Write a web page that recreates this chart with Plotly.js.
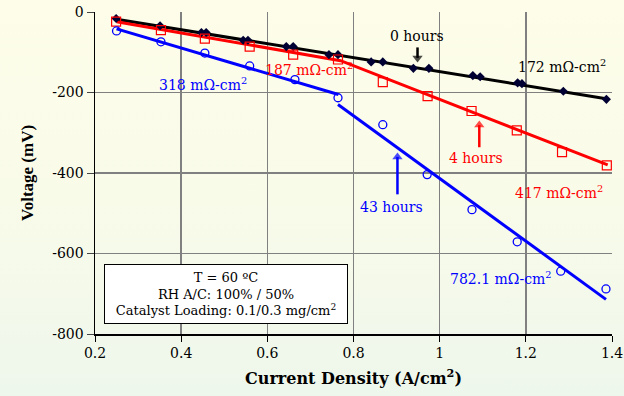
<!DOCTYPE html>
<html><head><meta charset="utf-8">
<script src="https://cdn.plot.ly/plotly-3.0.1.min.js"></script>
<style>
html,body{margin:0;padding:0;}
body{background:linear-gradient(to bottom,#fdfde9 0%,#f9fbe9 50%,#eef7ec 100%);width:624px;height:396px;overflow:hidden;}
#chart{width:624px;height:396px;}
</style>
</head><body><div id="chart"></div>
<script>
// 0 hours
const x0h = [0.249,0.351,0.447,0.458,0.544,0.555,0.644,0.660,0.743,0.764,0.841,0.868,0.939,0.975,1.077,1.094,1.181,1.191,1.287,1.387];
const y0h = [-16,-34,-51,-51,-70,-70,-86,-86,-106,-106,-124,-124,-140,-140,-158,-161,-176,-178,-197,-217];
const fit0hX = [0.25,1.39];
const fit0hY = [-18,-216];
// 4 hours
const x4h = [0.249,0.353,0.455,0.559,0.660,0.764,0.868,0.972,1.074,1.179,1.284,1.388];
const y4h = [-24,-45,-66,-86,-106,-118,-174,-209,-246,-294,-348,-381];
const fit4hX = [0.25,0.77,1.39];
const fit4hY = [-24,-121,-380];
// 43 hours
const x43h = [0.250,0.353,0.455,0.559,0.664,0.764,0.868,0.971,1.075,1.180,1.281,1.386];
const y43h = [-47,-74,-102,-134,-168,-213,-280,-404,-491,-571,-644,-688];
const fit43aX = [0.25,0.765];
const fit43aY = [-42,-205];
const fit43bX = [0.764,1.386];
const fit43bY = [-230,-714];
// arrows: [x, tail y, head y]
const arrow0h = [0.9486,-88,-114];
const arrow4h = [1.092,-336,-281];
const arrow43h = [0.902,-453,-360];
const xTicks = [0.2,0.4,0.6,0.8,1,1.2,1.4];
const yTicks = [0,-200,-400,-600,-800];

const SERIF = 'DejaVu Serif, serif';
const TIMES = 'Liberation Serif, Times New Roman, serif';
const BLACK='#000000', RED='#ff0000', BLUE='#0000ff';

function arrowTrace(a,c){
  const head = a[2] > a[1] ? 'triangle-up' : 'triangle-down';
  return {x:[a[0],a[0]],y:[a[1],a[2]],mode:'lines+markers',
    line:{color:c,width:2.5},
    marker:{symbol:['circle',head],size:[0.1,9],color:c,line:{width:0}},
    hoverinfo:'skip'};
}

const traces = [
  {x:fit0hX,y:fit0hY,mode:'lines',line:{color:BLACK,width:3},hoverinfo:'skip'},
  {x:fit4hX,y:fit4hY,mode:'lines',line:{color:RED,width:3},hoverinfo:'skip'},
  {x:fit43aX,y:fit43aY,mode:'lines',line:{color:BLUE,width:3},hoverinfo:'skip'},
  {x:fit43bX,y:fit43bY,mode:'lines',line:{color:BLUE,width:3},hoverinfo:'skip'},
  {x:x0h,y:y0h,mode:'markers',marker:{symbol:'diamond',size:7,color:'#000033',line:{width:0}}},
  {x:x4h,y:y4h,mode:'markers',marker:{symbol:'square-open',size:9,color:RED,line:{width:1.2}}},
  {x:x43h,y:y43h,mode:'markers',marker:{symbol:'circle-open',size:8,color:BLUE,line:{width:1.3}}},
  arrowTrace(arrow0h,BLACK),
  arrowTrace(arrow4h,RED),
  arrowTrace(arrow43h,BLUE)
];

function txt(x,y,t,c,xa){return {x:x,y:y,text:t,showarrow:false,font:{family:SERIF,size:14,color:c},xanchor:xa||'center',yanchor:'middle'};}

const annotations = [
  txt(0.947,-60,'0 hours',BLACK),
  txt(1.285,-133,'172 mΩ-cm<sup>2</sup>',BLACK),
  txt(0.589,-142,'187 mΩ-cm<sup>2</sup>',RED,'left'),
  txt(0.45,-180,'318 mΩ-cm<sup>2</sup>',BLUE),
  txt(1.085,-362,'4 hours',RED),
  txt(1.277,-446,'417 mΩ-cm<sup>2</sup>',RED),
  txt(0.888,-484,'43 hours',BLUE),
  txt(1.143,-660,'782.1 mΩ-cm<sup>2</sup>',BLUE),
  {x:0.5036,y:-701,xref:'x',yref:'y',showarrow:false,
   text:'T = 60 ºC<br>RH A/C: 100% / 50%<br>Catalyst Loading: 0.1/0.3 mg/cm<sup>2</sup>',
   font:{family:SERIF,size:13,color:BLACK},align:'center',
   bgcolor:'#ffffff',bordercolor:'#000000',borderwidth:1,borderpad:2,width:238,height:54}
];

const layout = {
  width:624,height:396,
  margin:{l:95,r:12,t:12,b:62,pad:0},
  paper_bgcolor:'rgba(0,0,0,0)',plot_bgcolor:'rgba(0,0,0,0)',
  showlegend:false,
  font:{family:SERIF,size:14,color:BLACK},
  xaxis:{range:[0.2,1.4],tickvals:xTicks,ticktext:xTicks.map(String),
    showgrid:true,gridcolor:'#808080',gridwidth:1.5,zeroline:false,
    showline:true,linecolor:BLACK,linewidth:1.5,ticks:'outside',ticklen:6,tickcolor:BLACK,
    tickfont:{family:SERIF,size:14},
    title:{text:'<b>Current Density (A/cm<sup>2</sup>)</b>',font:{family:SERIF,size:16},standoff:12}},
  yaxis:{range:[-800,0],tickvals:yTicks,ticktext:yTicks.map(String),
    showgrid:true,gridcolor:'#808080',gridwidth:1.5,zeroline:false,
    showline:true,linecolor:BLACK,linewidth:1.5,ticks:'outside',ticklen:7,tickcolor:'#444',
    tickfont:{family:SERIF,size:14},
    title:{text:'<b>Voltage (mV)</b>',font:{family:TIMES,size:17},standoff:14}},
  annotations:annotations
};
Plotly.newPlot('chart',traces,layout,{displayModeBar:false,staticPlot:true});
</script>
</body></html>
